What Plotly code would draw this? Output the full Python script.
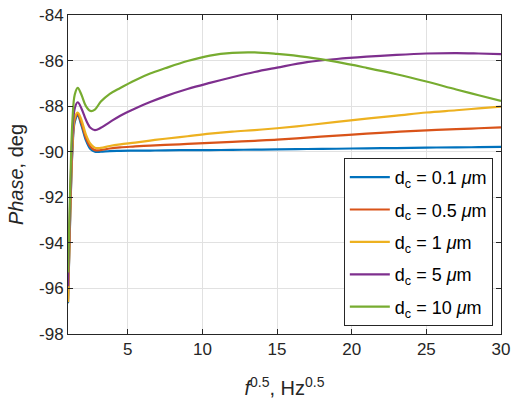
import plotly.graph_objects as go

# sqrt(f) sample positions
x_vals = [1.0, 1.15, 1.3, 1.45, 1.65, 1.9, 2.2, 2.5, 2.8, 3.2, 3.8, 4.5, 5.5, 6.5,
          7.5, 9, 10.5, 12, 13.5, 15, 17, 19, 21, 23, 25, 27, 28.5, 30]

# phase (deg) for each coating thickness
phase_01 = [-96.65, -92.8, -89.9, -88.7, -88.42, -88.85, -89.5, -89.88, -90.0, -90.0,
            -89.97, -89.96, -89.95, -89.95, -89.94, -89.93, -89.93, -89.92, -89.91,
            -89.9, -89.88, -89.87, -89.85, -89.84, -89.82, -89.81, -89.8, -89.79]
phase_05 = [-96.6, -92.7, -89.8, -88.6, -88.35, -88.75, -89.4, -89.78, -89.93, -89.93,
            -89.86, -89.81, -89.77, -89.73, -89.7, -89.66, -89.61, -89.57, -89.52,
            -89.47, -89.38, -89.29, -89.21, -89.13, -89.06, -89.01, -88.97, -88.93]
phase_1 = [-96.6, -92.5, -89.6, -88.5, -88.28, -88.6, -89.25, -89.65, -89.83, -89.83,
           -89.75, -89.68, -89.6, -89.51, -89.43, -89.32, -89.21, -89.12, -89.05,
           -88.97, -88.84, -88.69, -88.55, -88.42, -88.28, -88.18, -88.1, -88.02]
phase_5 = [-95.9, -92.0, -89.2, -88.1, -87.83, -88.1, -88.6, -88.95, -89.05, -88.95,
           -88.7, -88.42, -88.1, -87.82, -87.57, -87.25, -86.98, -86.73, -86.5,
           -86.31, -86.07, -85.93, -85.83, -85.75, -85.69, -85.67, -85.69, -85.72]
phase_10 = [-95.3, -91.5, -88.6, -87.5, -87.2, -87.5, -88.0, -88.21, -88.15, -87.8,
            -87.46, -87.2, -86.86, -86.57, -86.34, -86.02, -85.78, -85.66, -85.64,
            -85.71, -85.85, -86.06, -86.32, -86.6, -86.92, -87.27, -87.52, -87.77]

labels = ["0.1", "0.5", "1", "5", "10"]
series = [phase_01, phase_05, phase_1, phase_5, phase_10]
colors = ["#0072BD", "#D95319", "#EDB120", "#7E2F8E", "#77AC30"]

y_ticks = [-98, -96, -94, -92, -90, -88, -86, -84]
x_ticks = [5, 10, 15, 20, 25, 30]

fig = go.Figure()
for lab, ys, col in zip(labels, series, colors):
    fig.add_trace(go.Scatter(
        x=x_vals, y=ys, mode="lines",
        name=f"d<sub>c</sub> = {lab} <i>\u03bc</i>m",
        legendgroup=lab,
        line=dict(color=col, width=2.2, shape="spline", smoothing=1.0),
    ))

axis_common = dict(
    showline=True, linecolor="#262626", linewidth=1, mirror="ticks",
    ticks="inside", ticklen=5, tickcolor="#262626", automargin=False,
    showgrid=True, gridcolor="#e1e1e1", gridwidth=1, zeroline=False,
    tickfont=dict(family="Liberation Sans, Arial", size=17, color="#262626"),
)

fig.update_layout(
    width=516, height=404,
    margin=dict(l=68, r=15, t=15, b=70),
    paper_bgcolor="white", plot_bgcolor="white",
    font=dict(family="Liberation Sans, Arial", color="#262626"),
    xaxis=dict(range=[1, 30], tickvals=x_ticks, ticktext=[str(v) for v in x_ticks],
               title=dict(text="<i>f</i><sup>0.5</sup>, Hz<sup>0.5</sup>",
                          font=dict(size=20), standoff=22),
               **axis_common),
    yaxis=dict(range=[-98, -84], tickvals=y_ticks, ticktext=[str(v) for v in y_ticks],
               title=dict(text="<i>Phase</i>, deg", font=dict(size=20), standoff=10),
               **axis_common),
    legend=dict(x=0.637, y=0.552, xanchor="left", yanchor="top",
                bgcolor="white", bordercolor="#262626", borderwidth=1,
                tracegroupgap=6, traceorder="grouped", itemwidth=40,
                font=dict(size=18, color="#000000")),
    showlegend=True,
)

fig.write_html("out.html", config={"displayModeBar": False},
               post_script="document.body.style.margin='0';")
